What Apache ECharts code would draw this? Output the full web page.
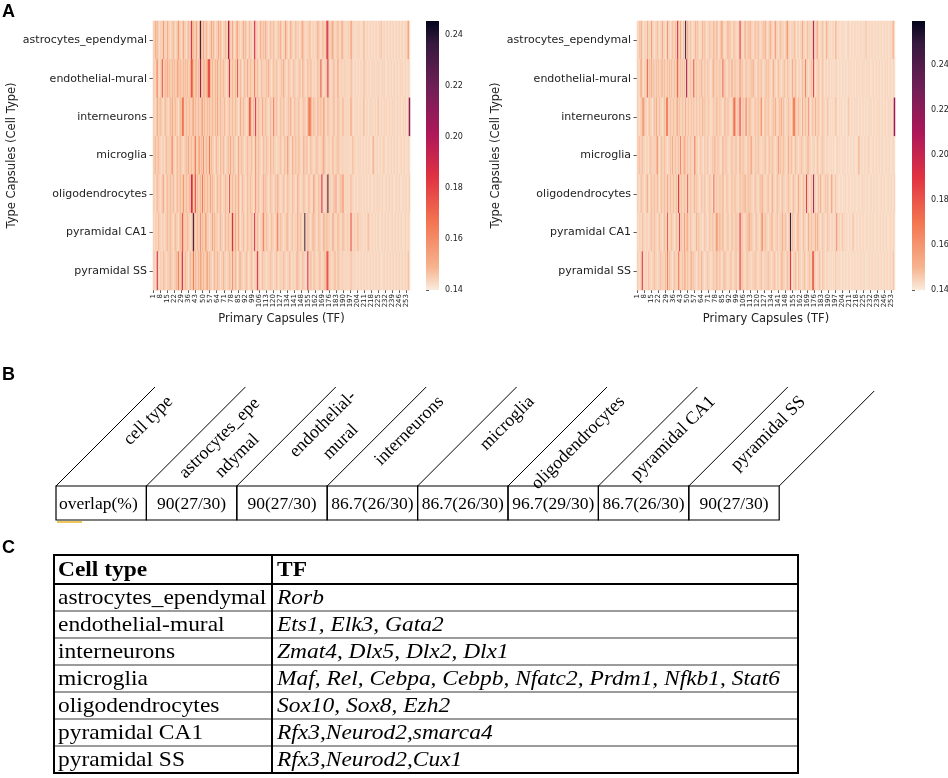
<!DOCTYPE html>
<html lang="en">
<head>
<meta charset="UTF-8">
<title>Type capsules vs primary capsules</title>
<script src="https://cdn.jsdelivr.net/npm/echarts@6.0.0/dist/echarts.min.js"></script>
<style>
  html, body { margin: 0; padding: 0; background: #fff; }
  #main { width: 948px; height: 778px; }
</style>
</head>
<body>
<div id="main"></div>
<script type="text/javascript">
// ---- data ----
var cellTypes = ['astrocytes_ependymal', 'endothelial-mural', 'interneurons', 'microglia',
                 'oligodendrocytes', 'pyramidal CA1', 'pyramidal SS'];

// one digit per primary capsule (256 per row), a shade level; levels -> coupling value
var leftLevels  = [0.142, 0.1445, 0.148, 0.153, 0.159, 0.166, 0.176, 0.19, 0.21, 0.235];
var rightLevels = [0.142, 0.1445, 0.148, 0.153, 0.159, 0.166, 0.176, 0.19, 0.215, 0.25];

var leftRows = [
  '1031210110411031 1011210114110131 1012117221131029 2131121011312101 1312101121184113 1012311011312101 2110172110131121 3110121121011213 1011411013110121 1101231101112101 1011311012111761 1123101121013110 1011041010010100 0120010010010010 0102001001001001 0010010010010140',
  '1102410116112131 2112121132121121 2121126521221218 2122123662121121 3112112110127112 1121611210121131 1211151121012111 1213110121121011 2131101211012110 1121031101211210 1101211611011271 1011210131011011 0101021001001001 0020100100101001 0100101000100100 1001001010010010',
  '1101311211012110 1213112110121551 1211211231211211 2312112121121121 3112111210112112 1121101311211012 6511217112111311 2110121151121012 1121011213101211 1210112110255411 2110311211410121 1011210121101210 1010131001010010 0120010010100100 2001001010010010 1001001001010018',
  '1121121101101211 1124110121121101 1213112112511231 2141121151211012 1102112101121311 2110131121101121 1121014112110121 1211031121101112 1012114110131121 1211013112101211 0112110112311011 1012101121101101 0101001201001010 0100100100031001 0010011000100100 1001000100100010',
  '1101211011310121 1211210121121141 1211217612612112 1512112113121101 2112101121106112 1121131012110121 1211014112101131 2110121101213110 1121012110121101 3110112110121101 4110121171101291 1101213101121410 1010120100100101 0010010010001001 0100100010010010 0010010001001001',
  '1011021101101121 1211012110121621 1121101292112114 1211321101131211 1012110121121127 2131131011210121 1121171121011251 1211012110125112 1101122101120111 3112101911211012 2110121101311211 1013110121101211 0110161011012010 1001002100100100 1000100100100010 0100100100010010',
  '1101710110211011 1211011215112711 2110121151211213 2121123121101211 2110112110112114 1121012211011210 1121011271101211 1011121101121011 1121101121011012 2110121101711210 2110112101121661 1101121021101101 0101020101001001 0010010010010010 0100001001001001 0010010010010020'
];

var rightRows = [
  '1021310110311041 1011210113110141 1012112172131021 9131121011312101 1312101121113113 1012411011312101 2110117110131121 3110121121011213 1011311014110121 1101241101112101 1011311012111128 1123101121013110 1011031010010100 0110010010010010 0102001001001001 0010010010010130',
  '1102310111612131 2112121122121121 2121121262121212 1821121162121121 3112112110123112 1121161210121131 1211114121012111 1213110121121011 2121101311012110 1121021101311210 1101211511011217 1011210121011011 0101011001001001 0010100100101001 0100101000100100 1001001010010010',
  '1101134211012110 1213112110121551 1211211231211211 3112112121121121 1312111210112113 1121101311211012 6511217112115112 2110121121151012 1121011213101213 1210112110255211 2110311211410121 1311210121101210 1010121001010010 0120010010100100 1001001010010010 1001001001010018',
  '1121121101101211 1112410121121101 1213112112151123 2121121115211012 1102112101121311 2110131121101121 1121013112110121 1411021121101112 1012112110114121 1211013112101211 0112110112211011 1012101121101101 0101001101001010 0100100100013001 0010011000100100 1001000100100010',
  '1101211011310121 1211210121121131 1211211217212112 1161121113121101 2112101121106112 1121131012110121 1211012112131121 2110121101213110 1121013110121101 2110112110121101 3110121171101218 1101213101121210 1410120100100101 0010010010001001 0100100010010010 0010010001001001',
  '1011021101101121 1211012110121161 1121101211712114 1231121101131211 1012110121121125 2131131011210121 1121117121011214 1211012110125112 1101122101120111 3112101191211012 2110121101311211 1313110121101211 0110115011012010 1001002100100100 1000100100100010 0100100100010010',
  '1101171011021101 1211011211112151 2110121115211213 2121123121101211 3110112110112113 1121012211011210 1121017121101211 1011121101121011 1121101121011012 2110121171011210 2110112101121166 1101121021101101 0101020101001001 0010010010010010 0100001001001001 0010010010010020'
];

var scaleMin = 0.14;
var leftMax = 0.2455;
var rightMax = 0.2595;
var barTicks = [0.14, 0.16, 0.18, 0.20, 0.22, 0.24];

// panel B
var overlapTypes = ['astrocytes_epe\nndymal', 'endothelial-\nmural', 'interneurons', 'microglia',
                    'oligodendrocytes', 'pyramidal CA1', 'pyramidal SS'];
var overlapValues = ['90(27/30)', '90(27/30)', '86.7(26/30)', '86.7(26/30)',
                     '96.7(29/30)', '86.7(26/30)', '90(27/30)'];

// panel C
var tfRows = [
  ['astrocytes_ependymal', 'Rorb'],
  ['endothelial-mural', 'Ets1, Elk3, Gata2'],
  ['interneurons', 'Zmat4, Dlx5, Dlx2, Dlx1'],
  ['microglia', 'Maf, Rel, Cebpa, Cebpb, Nfatc2, Prdm1, Nfkb1, Stat6'],
  ['oligodendrocytes', 'Sox10, Sox8, Ezh2'],
  ['pyramidal CA1', 'Rfx3,Neurod2,smarca4'],
  ['pyramidal SS', 'Rfx3,Neurod2,Cux1']
];

// ---- helpers ----
var capsuleLabels = [];
for (var k = 1; k <= 256; k++) capsuleLabels.push(String(k));

function rowsToCells(rows, levels) {
  var cells = [];
  rows.forEach(function (row, r) {
    var s = row.replace(/ /g, '');
    if (s.length !== 256) console.warn('row', r, 'has', s.length);
    for (var c = 0; c < s.length; c++) cells.push([c, r, levels[+s[c]]]);
  });
  return cells;
}

// seaborn "rocket_r", evenly spaced stops
var rocketR = ['#faebdd', '#f6b48f', '#f49570', '#f37651', '#ea554a', '#e13342', '#c7254e',
               '#ad1759', '#8f1b58', '#701f57', '#531c4b', '#35193e', '#03051a'];
var rocketStops = rocketR.map(function (c, i) { return { offset: i / (rocketR.length - 1), color: c }; });

var every7 = function (index) { return index % 7 === 0; };
var sans = 'DejaVu Sans';
var serif = 'Liberation Serif';

function heatX(i) {
  return {
    type: 'category', gridIndex: i, data: capsuleLabels,
    axisLine: { show: false },
    axisTick: { show: true, interval: every7, alignWithLabel: true, length: 3, lineStyle: { color: '#333', width: 0.8 } },
    axisLabel: { interval: every7, rotate: 90, fontSize: 7, color: '#222', margin: 4, fontFamily: sans },
    splitLine: { show: false },
    name: 'Primary Capsules (TF)', nameLocation: 'middle', nameGap: 23,
    nameTextStyle: { fontSize: 11.5, color: '#222', fontFamily: sans }
  };
}
function heatY(i) {
  return {
    type: 'category', gridIndex: i, data: cellTypes, inverse: true,
    axisLine: { show: false },
    axisTick: { show: true, length: 3.5, alignWithLabel: true, lineStyle: { color: '#333', width: 0.8 } },
    axisLabel: { fontSize: 11, color: '#222', margin: 6, fontFamily: sans },
    splitLine: { show: false },
    name: 'Type Capsules (Cell Type)', nameLocation: 'middle', nameRotate: 90, nameGap: 135,
    nameTextStyle: { fontSize: 11.5, color: '#222', fontFamily: sans }
  };
}
function barX(i) {
  return { type: 'value', gridIndex: i, min: 0, max: 1, show: false };
}
function barY(i, max) {
  return {
    type: 'value', gridIndex: i, min: scaleMin, max: max, position: 'right',
    axisLine: { show: false },
    splitLine: { show: false },
    axisTick: { show: true, length: 3, customValues: barTicks, lineStyle: { color: '#333', width: 0.8 } },
    axisLabel: { customValues: barTicks, fontSize: 8, color: '#222', margin: 6, fontFamily: sans,
                 formatter: function (v) { return v.toFixed(2); } }
  };
}
function heatSeries(i, cells) {
  return {
    type: 'heatmap', xAxisIndex: i, yAxisIndex: i, data: cells,
    itemStyle: { borderWidth: 0 }, emphasis: { disabled: true }, progressive: 0
  };
}
function barSeries(i, max) {
  return {
    type: 'custom', xAxisIndex: i, yAxisIndex: i, silent: true,
    data: [[0, 1, scaleMin, max]],
    renderItem: function (params, api) {
      var p0 = api.coord([api.value(0), api.value(2)]);
      var p1 = api.coord([api.value(1), api.value(3)]);
      return {
        type: 'rect',
        shape: { x: p0[0], y: p1[1], width: p1[0] - p0[0], height: p0[1] - p1[1] },
        style: { fill: new echarts.graphic.LinearGradient(0, 1, 0, 0, rocketStops) }
      };
    }
  };
}

// ---- panels B and C (tables) ----
var graphics = [];
function txt(x, y, s, font, opts) {
  var o = opts || {};
  graphics.push({
    type: 'text', x: x, y: y, rotation: o.rotation || 0, scaleX: o.scaleX || 1,
    style: { text: s, font: font, fill: '#000', align: o.align || 'left',
             verticalAlign: 'middle', lineHeight: o.lineHeight }
  });
}
function seg(x1, y1, x2, y2, color, width) {
  graphics.push({ type: 'line', shape: { x1: x1, y1: y1, x2: x2, y2: y2 },
                  style: { stroke: color, lineWidth: width } });
}

['A', 'B', 'C'].forEach(function (letter, i) {
  txt(2, [12, 375, 548][i], letter, 'bold 18px "Liberation Sans"');
});

// table B
var bX0 = 56, bY0 = 486, bW = 90.4, bH = 34, bRise = 99;
var bHead = ['cell type'].concat(overlapTypes);
var bCells = ['overlap(%)'].concat(overlapValues);
// where each slanted header sits, relative to its cell's lower-left corner
var bHeadPos = [[114, 87, 'right'], [82, 39, 'center'], [95, 53, 'center'], [114, 87, 'right'],
                [114, 87, 'right'], [114, 87, 'right'], [114, 87, 'right'], [114, 87, 'right']];
bCells.forEach(function (s, i) {
  var x = bX0 + i * bW;
  graphics.push({ type: 'rect', shape: { x: x, y: bY0, width: bW, height: bH },
                  style: { fill: 'none', stroke: '#000', lineWidth: 1.2 } });
  if (i === 0) txt(x + 3, bY0 + 18, s, '17.5px "' + serif + '"');
  else txt(x + bW / 2, bY0 + 18, s, '17.5px "' + serif + '"', { align: 'center' });
  var p = bHeadPos[i];
  txt(x + p[0], bY0 - p[1], bHead[i], '18px "' + serif + '"',
      { rotation: Math.PI / 4, align: p[2], lineHeight: 25 });
});
for (var d = 0; d <= bCells.length; d++) {
  var rise = d === bCells.length ? 95 : bRise;
  seg(bX0 + d * bW, bY0, bX0 + d * bW + rise, bY0 - rise, '#000', 1);
}
seg(57, bY0 + bH + 2, 82, bY0 + bH + 2, '#e6b422', 1.5);

// table C
var cLeft = 54, cMid = 272, cRight = 798, cTop = 555, cHeadH = 29, cRowH = 27;
var cBottom = cTop + cHeadH + cRowH * tfRows.length;
var cFont = '21.5px "' + serif + '"';
txt(cLeft + 4, cTop + cHeadH / 2 + 1, 'Cell type', 'bold ' + cFont, { scaleX: 1.09 });
txt(cMid + 5, cTop + cHeadH / 2 + 1, 'TF', 'bold ' + cFont, { scaleX: 1.09 });
tfRows.forEach(function (row, i) {
  var yc = cTop + cHeadH + cRowH * i + cRowH / 2 + 1;
  txt(cLeft + 4, yc, row[0], cFont, { scaleX: 1.09 });
  txt(cMid + 5, yc, row[1], 'italic ' + cFont, { scaleX: 1.09 });
  if (i > 0) seg(cLeft, cTop + cHeadH + cRowH * i, cRight, cTop + cHeadH + cRowH * i, '#7a7a7a', 1.5);
});
seg(cLeft, cTop + cHeadH, cRight, cTop + cHeadH, '#000', 2);
seg(cMid, cTop, cMid, cBottom, '#000', 2);
graphics.push({ type: 'rect', shape: { x: cLeft, y: cTop, width: cRight - cLeft, height: cBottom - cTop },
                style: { fill: 'none', stroke: '#000', lineWidth: 2 } });

// ---- chart ----
var myChart = echarts.init(document.getElementById('main'), null, { renderer: 'canvas' });
var option = {
  animation: false,
  backgroundColor: '#fff',
  textStyle: { fontFamily: sans },
  grid: [
    { left: 153, top: 21, width: 257, height: 269, outerBoundsMode: 'none' },
    { left: 637, top: 21, width: 258, height: 269, outerBoundsMode: 'none' },
    { left: 426, top: 21, width: 13, height: 269, outerBoundsMode: 'none' },
    { left: 912, top: 21, width: 13, height: 269, outerBoundsMode: 'none' }
  ],
  xAxis: [heatX(0), heatX(1), barX(2), barX(3)],
  yAxis: [heatY(0), heatY(1), barY(2, leftMax), barY(3, rightMax)],
  visualMap: [
    { type: 'continuous', show: false, seriesIndex: 0, dimension: 2, min: scaleMin, max: leftMax, inRange: { color: rocketR } },
    { type: 'continuous', show: false, seriesIndex: 1, dimension: 2, min: scaleMin, max: rightMax, inRange: { color: rocketR } }
  ],
  series: [
    heatSeries(0, rowsToCells(leftRows, leftLevels)),
    heatSeries(1, rowsToCells(rightRows, rightLevels)),
    barSeries(2, leftMax),
    barSeries(3, rightMax)
  ],
  graphic: graphics
};
myChart.setOption(option);
</script>
</body>
</html>
